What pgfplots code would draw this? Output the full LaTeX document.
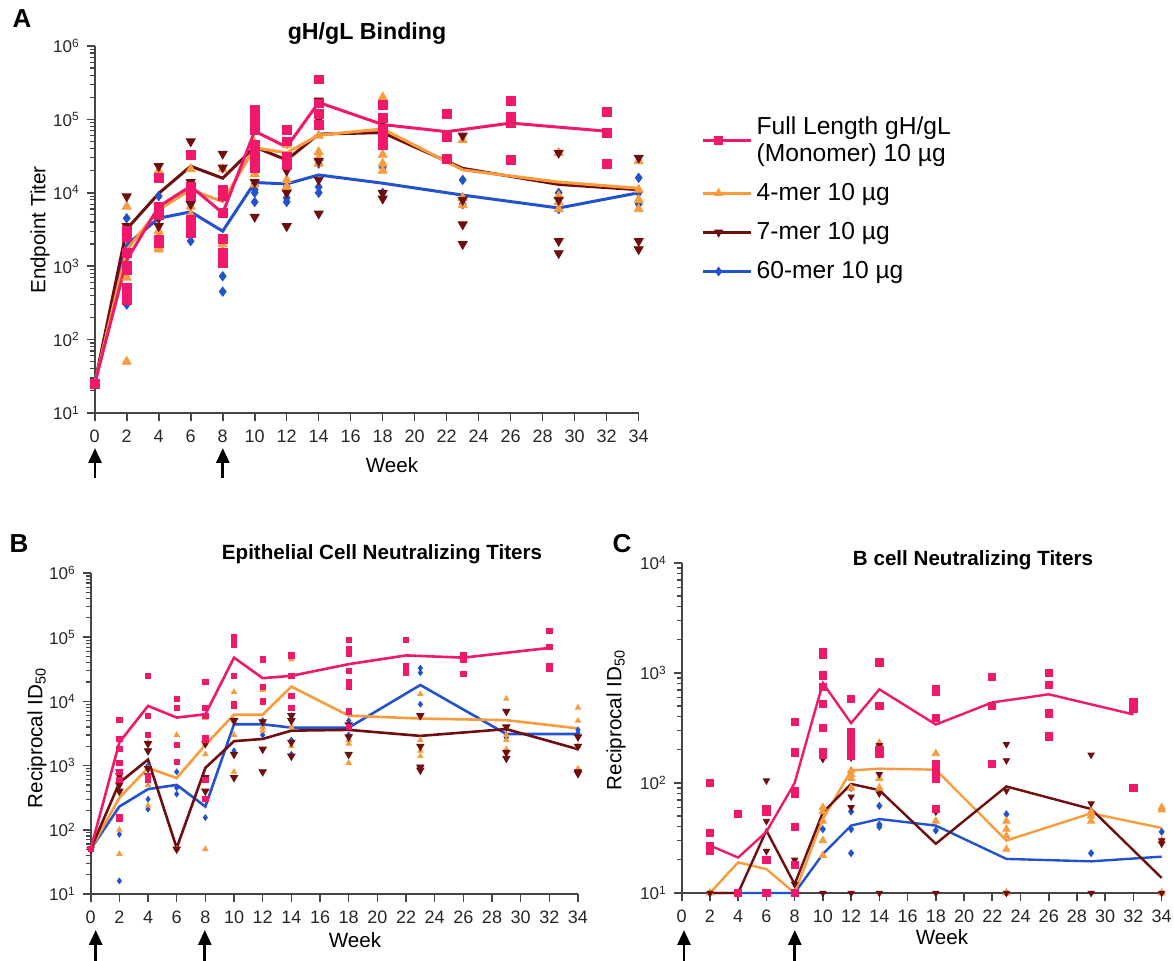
\documentclass[border=0pt]{standalone}
\usepackage{fontspec}
\setmainfont{Liberation Sans}
\usepackage{pgfplots}
\pgfplotsset{compat=1.18}
\usetikzlibrary{calc,arrows.meta}
\definecolor{pk}{HTML}{F0186B}
\definecolor{og}{HTML}{F89B3C}
\definecolor{mr}{HTML}{6E0E0E}
\definecolor{bl}{HTML}{2352CE}
\definecolor{ax}{HTML}{454545}
\newcommand{\sz}[1]{\fontsize{#1}{#1}\selectfont}
\pgfkeys{/pgf/number format/assume math mode=true}
\pgfplotsset{
  every axis/.append style={
    scale only axis, xmin=0, xmax=34, clip=false,
    axis x line=bottom, axis y line=left,
    axis line style={-, line width=1pt, draw=ax},
    xtick={0,2,...,34},
    tick align=outside, major tick length=4pt, minor tick length=2.2pt,
    major tick style={draw=ax, line width=0.8pt},
    minor tick style={draw=ax, line width=0.6pt},
    xticklabel style={font=\sz{9}, text=black!85, yshift=-1pt},
    yticklabel style={font=\sz{8.5}, text=black!85},
    enlargelimits=false,
  },
}
\tikzset{arr/.style={-{Triangle[width=6.5pt,length=7.5pt]}, line width=1.4pt, black}}
\begin{document}
\begin{tikzpicture}
\useasboundingbox (0,0) rectangle (587pt,480.5pt);
% ================= Panel A =================
\begin{axis}[ymode=log, at={(47.35pt,274pt)}, anchor=south west,
  width=272pt, height=183.5pt, ymin=10, ymax=1e6,
  ytick={10,100,1000,10000,100000,1000000},
  yticklabels={10\textsuperscript{1},10\textsuperscript{2},10\textsuperscript{3},10\textsuperscript{4},10\textsuperscript{5},10\textsuperscript{6}},
  minor ytick={20,30,40,50,60,70,80,90,200,300,400,500,600,700,800,900,2000,3000,4000,5000,6000,7000,8000,9000,20000,30000,40000,50000,60000,70000,80000,90000,200000,300000,400000,500000,600000,700000,800000,900000},
  legend style={draw=none, fill=none, at={(1.115,0.82)}, anchor=north west,
    font=\fontsize{12.3}{13.4}\selectfont, row sep=5.5pt, inner sep=0pt,
    cells={anchor=west, align=left}},
  legend cell align=left,
  legend image code/.code={\path (0pt,0pt) -- (24pt,0pt);\draw[mark repeat=2,mark phase=2,#1] plot coordinates {(0pt,0pt)(7.75pt,0pt)(15.5pt,0pt)};},
]
\addlegendimage{pk, line width=1.5pt, mark=square*, mark size=1.6pt}
\addlegendentry{Full Length gH/gL\\(Monomer) 10 µg}
\addlegendimage{og, line width=1.5pt, mark=triangle*, mark size=1.2pt}
\addlegendentry{4-mer 10 µg}
\addlegendimage{mr, line width=1.5pt, mark=triangle*, mark size=1.2pt, mark options={rotate=180}}
\addlegendentry{7-mer 10 µg}
\addlegendimage{bl, line width=1.5pt, mark=diamond*, mark size=1.2pt}
\addlegendentry{60-mer 10 µg}
% points
\addplot[forget plot, only marks, mark=diamond*, mark size=2.3pt, color=bl] coordinates {
(0,25)(2,4500)(2,1000)(2,500)(2,300)(4,9000)(4,2000)(4,1800)(6,2800)(6,2200)(8,730)(8,450)
(10,13000)(10,11000)(10,10000)(10,7500)(12,12000)(12,8500)(12,7500)(14,25000)(14,12000)(14,10000)
(18,22000)(18,10000)(23,15000)(23,7000)(29,10000)(29,6000)(34,16000)(34,10000)(34,7000)};
\addplot[forget plot, only marks, mark=triangle*, mark size=2.6pt, color=og] coordinates {
(0,25)(2,6500)(2,3000)(2,1500)(2,1000)(2,700)(2,50)(4,20000)(4,3000)(4,2500)(4,2000)(4,1800)(4,1700)
(6,21000)(6,6500)(6,5000)(6,3000)(6,2800)(8,21000)(8,2000)(8,1600)(8,1400)
(10,48000)(10,30000)(10,18000)(10,13000)(12,45000)(12,15000)(12,12000)
(14,60000)(14,36000)(14,30000)(14,25000)(18,200000)(18,33000)(18,25000)(18,20000)
(23,52000)(23,8500)(23,6800)(29,35000)(29,9000)(29,7500)(29,6000)(34,27000)(34,11000)(34,8000)(34,6000)};
\addplot[forget plot, only marks, mark=triangle*, mark size=2.6pt, mark options={rotate=180}, color=mr] coordinates {
(0,25)(2,8900)(2,3500)(2,2500)(4,23000)(4,4500)(4,3500)(6,50000)(6,14000)(6,7000)
(8,34000)(8,22000)(8,9000)(10,14000)(10,4700)(12,20000)(12,10000)(12,3500)
(14,180000)(14,100000)(14,27000)(14,15000)(14,5200)(18,95000)(18,10000)(18,8300)
(23,60000)(23,8000)(23,3700)(23,2000)(29,35000)(29,8000)(29,2200)(29,1500)(34,30000)(34,2200)(34,1700)};
\addplot[forget plot, only marks, mark=square*, mark size=2.2pt, color=pk] coordinates {
(0,25)(2,3000)(2,2500)(2,1500)(2,1000)(2,900)(2,500)(2,400)(2,350)
(4,16000)(4,6500)(4,5000)(4,2300)(4,2100)(6,33000)(6,12000)(6,9100)(6,4300)(6,3500)(6,2800)
(8,11000)(8,9000)(8,5300)(8,2350)(8,1500)(8,1400)(8,1200)(8,1100)
(10,135000)(10,115000)(10,94000)(10,72000)(10,45000)(10,38000)(10,30000)(10,25000)(10,22000)
(12,72000)(12,50000)(12,31000)(12,24000)(14,350000)(14,165000)(14,120000)(14,85000)
(18,158000)(18,105000)(18,75000)(18,60000)(18,50000)(18,45000)
(22,118000)(22,58000)(22,29000)(26,180000)(26,110000)(26,90000)(26,28000)(32,125000)(32,65000)(32,25000)};
% mean lines
\addplot[forget plot, bl, line width=1.5pt] coordinates {(0,25)(2,1950)(4,4500)(6,5500)(8,3000)(10,13800)(12,13200)(14,17500)(18,13500)(23,9300)(29,6200)(34,10000)};
\addplot[forget plot, mr, line width=1.5pt] coordinates {(0,25)(2,3200)(4,9800)(6,23000)(8,15800)(10,42000)(12,28000)(14,63000)(18,66000)(23,21500)(29,13000)(34,11000)};
\addplot[forget plot, og, line width=1.5pt] coordinates {(0,25)(2,1660)(4,5900)(6,11000)(8,7600)(10,41000)(12,35000)(14,61000)(18,74000)(23,20500)(29,14000)(34,11500)};
\addplot[forget plot, pk, line width=1.5pt] coordinates {(0,25)(2,1200)(4,6500)(6,12300)(8,5300)(10,69000)(12,42000)(14,170000)(18,85000)(22,68000)(26,89000)(32,69000)};
\end{axis}
% ================= Panel B =================
\begin{axis}[ymode=log, at={(45.35pt,33.5pt)}, anchor=south west,
  width=243.65pt, height=160.5pt, ymin=10, ymax=1e6,
  ytick={10,100,1000,10000,100000,1000000},
  yticklabels={10\textsuperscript{1},10\textsuperscript{2},10\textsuperscript{3},10\textsuperscript{4},10\textsuperscript{5},10\textsuperscript{6}},
  minor ytick={20,30,40,50,60,70,80,90,200,300,400,500,600,700,800,900,2000,3000,4000,5000,6000,7000,8000,9000,20000,30000,40000,50000,60000,70000,80000,90000,200000,300000,400000,500000,600000,700000,800000,900000},
]
\addplot[only marks, mark=diamond*, mark size=1.4pt, color=bl] coordinates {
(0,50)(2,500)(2,85)(2,16)(4,1000)(4,600)(4,300)(4,210)(6,800)(6,450)(6,360)(8,2300)(8,155)
(10,9000)(10,5000)(10,1700)(12,5000)(12,3000)(14,6000)(14,2500)(14,1500)(18,5000)(18,3000)
(23,33000)(23,28000)(23,9000)(29,3000)(29,2700)(34,3600)(34,3200)};
\addplot[only marks, mark=triangle*, mark size=1.5pt, color=og] coordinates {
(0,50)(2,700)(2,400)(2,100)(2,42)(4,2300)(4,900)(4,600)(4,500)(4,240)(6,3000)(6,50)
(8,5500)(8,2200)(8,1500)(8,50)(10,14000)(10,5000)(10,3000)(10,800)(12,15000)(12,4000)(12,3500)
(14,45000)(14,4000)(14,2000)(18,2500)(18,2200)(18,1100)(23,13000)(23,2500)(23,1700)(23,1400)
(29,11000)(29,3000)(29,2500)(29,1800)(34,8000)(34,5000)(34,2000)(34,900)};
\addplot[only marks, mark=triangle*, mark size=2.1pt, mark options={rotate=180}, color=mr] coordinates {
(0,50)(2,800)(2,700)(2,500)(2,400)(4,2200)(4,1700)(4,900)(4,700)(6,50)(8,2200)(8,650)(8,400)
(10,5000)(10,1500)(10,650)(12,4800)(12,1800)(12,800)(14,6000)(14,5000)(14,2300)(14,1400)
(18,4300)(18,2800)(18,1500)(23,6000)(23,2000)(23,950)(23,850)(29,7000)(29,4000)(29,1600)(29,1300)
(34,2800)(34,2000)(34,800)(34,750)};
\addplot[only marks, mark=square*, mark size=1.3pt, color=pk] coordinates {
(0,50)(2,5200)(2,2600)(2,1800)(2,1100)(2,800)(2,600)(2,160)(2,150)(4,25000)(4,6000)(4,3000)(4,700)(4,600)
(6,11000)(6,8000)(6,2100)(6,1150)(8,20000)(8,8000)(8,6000)(8,2700)(8,2500)(8,600)(8,300)
(10,100000)(10,90000)(10,75000)(10,25000)(10,9000)(10,8500)(12,45000)(12,17000)(12,10000)
(14,52000)(14,25000)(14,12000)(14,8000)(18,90000)(18,65000)(18,55000)(18,30000)(18,20000)(18,17000)(18,7000)(18,4000)
(22,90000)(22,35000)(22,28000)(26,52000)(26,45000)(26,27000)(32,125000)(32,70000)(32,35000)(32,32000)};
\addplot[bl, line width=1.3pt] coordinates {(0,50)(2,230)(4,430)(6,500)(8,230)(10,4400)(12,4400)(14,3900)(18,3900)(23,18000)(29,3100)(34,3100)};
\addplot[og, line width=1.3pt] coordinates {(0,50)(2,315)(4,920)(6,640)(8,2100)(10,6200)(12,6200)(14,17000)(18,6000)(23,5400)(29,5100)(34,3800)};
\addplot[mr, line width=1.3pt] coordinates {(0,50)(2,540)(4,1240)(6,52)(8,920)(10,2400)(12,2600)(14,3500)(18,3600)(23,2900)(29,3700)(34,1800)};
\addplot[pk, line width=1.3pt] coordinates {(0,50)(2,2300)(4,8500)(6,5600)(8,6300)(10,48000)(12,23000)(14,25000)(18,38000)(22,52000)(26,48000)(32,68000)};
\end{axis}
% ================= Panel C =================
\begin{axis}[ymode=log, at={(340.85pt,34pt)}, anchor=south west,
  width=240pt, height=165pt, ymin=10, ymax=1e4,
  ytick={10,100,1000,10000},
  yticklabels={10\textsuperscript{1},10\textsuperscript{2},10\textsuperscript{3},10\textsuperscript{4}},
  minor ytick={20,30,40,50,60,70,80,90,200,300,400,500,600,700,800,900,2000,3000,4000,5000,6000,7000,8000,9000},
]
\addplot[only marks, mark=diamond*, mark size=1.7pt, color=bl] coordinates {
(2,10)(4,10)(6,10)(8,10)(10,38)(12,90)(12,55)(12,38)(12,23)(14,62)(14,42)(14,40)(18,55)(18,37)(23,52)(29,23)(34,36)};
\addplot[only marks, mark=triangle*, mark size=2.1pt, color=og] coordinates {
(2,10)(4,10)(8,10)(10,60)(10,55)(10,45)(10,30)(10,22)(12,220)(12,130)(12,120)(12,110)(12,90)
(14,230)(14,210)(14,180)(14,110)(14,90)(18,185)(18,45)(23,45)(23,38)(23,33)(23,25)(23,10)
(29,55)(29,50)(29,45)(34,60)(34,57)(34,30)(34,10)};
\addplot[only marks, mark=triangle*, mark size=1.8pt, mark options={rotate=180}, color=mr] coordinates {
(2,10)(4,10)(6,105)(6,45)(6,24)(6,20)(8,20)(8,12)(10,175)(10,165)(10,10)
(12,200)(12,185)(12,170)(12,75)(12,60)(12,10)(14,220)(14,120)(14,80)(14,10)(18,55)(18,10)
(23,225)(23,160)(23,85)(23,10)(29,180)(29,65)(29,10)(34,30)(34,28)(34,10)};
\addplot[only marks, mark=square*, mark size=1.8pt, color=pk] coordinates {
(2,100)(2,35)(2,27)(2,25)(2,24)(4,52)(4,10)(6,58)(6,55)(6,20)(6,10)
(8,360)(8,190)(8,85)(8,80)(8,40)(8,18)(8,10)
(10,1550)(10,1450)(10,950)(10,750)(10,520)(10,315)(10,190)(10,180)
(12,580)(12,290)(12,245)(12,220)(12,200)(12,175)(14,1250)(14,500)(14,200)(14,185)
(18,720)(18,680)(18,390)(18,150)(18,130)(18,110)(18,58)
(22,920)(22,500)(22,150)(26,1000)(26,780)(26,430)(26,265)(32,550)(32,500)(32,470)(32,90)};
\addplot[bl, line width=1.2pt] coordinates {(2,10)(4,10)(6,10)(8,10)(10,22.6)(12,41)(14,47)(18,41)(23,20.4)(29,19.4)(34,21.4)};
\addplot[og, line width=1.2pt] coordinates {(2,10)(4,19)(6,16.5)(8,10)(10,47)(12,130)(14,135)(18,132)(23,30)(29,53)(34,39)};
\addplot[mr, line width=1.2pt] coordinates {(2,10)(4,10)(6,37)(8,12)(10,54)(12,98)(14,86)(18,28)(23,93)(29,58)(34,13.7)};
\addplot[pk, line width=1.2pt] coordinates {(2,27)(4,21)(6,36)(8,100)(10,810)(12,350)(14,710)(18,340)(22,540)(26,640)(32,420)};
\end{axis}
% ================= Arrows (vaccination times) =================
\draw[arr] (47.5pt,241.5pt) -- (47.5pt,256.5pt);
\draw[arr] (111.4pt,241.5pt) -- (111.4pt,256.5pt);
\draw[arr] (47.85pt,0pt) -- (47.85pt,15.5pt);
\draw[arr] (102.4pt,0pt) -- (102.4pt,15.5pt);
\draw[arr] (342pt,0pt) -- (342pt,15.5pt);
\draw[arr] (397.4pt,0pt) -- (397.4pt,15.5pt);
% ================= Text =================
\node[font=\bfseries\sz{13}] at (11pt,471pt) {A};
\node[font=\bfseries\sz{13}] at (9.5pt,208.5pt) {B};
\node[font=\bfseries\sz{13}] at (311pt,208.5pt) {C};
\node[font=\bfseries\sz{11.6}, anchor=base] at (183.5pt,460.5pt) {gH/gL Binding};
\node[font=\bfseries\sz{10.3}, anchor=base] at (191pt,200.75pt) {Epithelial Cell Neutralizing Titers};
\node[font=\bfseries\sz{10.3}, anchor=base] at (486.5pt,197.8pt) {B cell Neutralizing Titers};
\node[font=\sz{10.3}] at (196pt,248pt) {Week};
\node[font=\sz{10.3}] at (177.5pt,10.5pt) {Week};
\node[font=\sz{10.3}] at (471pt,11.7pt) {Week};
\node[font=\sz{10.3}, rotate=90] at (20pt,365.5pt) {Endpoint Titer};
\node[font=\sz{10.3}, rotate=90] at (18.5pt,111.5pt) {Reciprocal ID\textsubscript{50}};
\node[font=\sz{10.3}, rotate=90] at (308pt,120.5pt) {Reciprocal ID\textsubscript{50}};
\end{tikzpicture}
\end{document}
